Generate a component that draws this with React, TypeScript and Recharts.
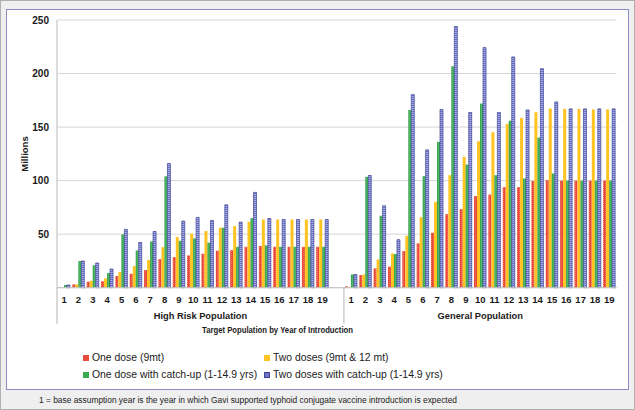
import React from "react";
import { BarChart, Bar, XAxis, YAxis, CartesianGrid } from "recharts";

const years = ["1", "2", "3", "4", "5", "6", "7", "8", "9", "10", "11", "12", "13", "14", "15", "16", "17", "18", "19"];
const groups = ["High Risk Population", "General Population"];
const seriesNames = [
  "One dose (9mt)",
  "Two doses (9mt & 12 mt)",
  "One dose with catch-up (1-14.9 yrs)",
  "Two doses with catch-up (1-14.9 yrs)",
];

// High risk population, millions
const hrOneDose = [0.4, 3.1, 5.6, 6, 10.9, 13, 16.5, 26.7, 28.6, 30.2, 31.7, 34.5, 35, 38.2, 38.9, 38.2, 38.2, 38.2, 38.2];
const hrTwoDoses = [0.3, 3.1, 6.5, 8.7, 14.6, 20.2, 25.8, 37.9, 47.3, 50.4, 52.9, 56, 57.5, 61.6, 63.7, 63.7, 63.7, 63.7, 63.7];
const hrOneCatchUp = [2.5, 24.9, 21, 13.7, 49.8, 34.8, 43.2, 104, 43.8, 46, 42, 56, 38.2, 65, 39.5, 38.2, 38.2, 38.2, 38.2];
const hrTwoCatchUp = [2.5, 24.9, 23, 17.4, 54.4, 42.3, 52.5, 116, 62.2, 65.6, 62.8, 77.4, 61.3, 89, 64.7, 63.7, 63.7, 63.7, 63.7];

// General population, millions
const gpOneDose = [1.2, 11.8, 18, 19.6, 34.2, 41.4, 51.3, 68.7, 73.4, 85.5, 87, 93.9, 93.9, 99.8, 100.4, 100, 100, 100, 100];
const gpTwoDoses = [0.8, 12.4, 26.4, 32, 48.5, 65.9, 80.2, 105.1, 122.2, 136.8, 145.2, 153, 158.6, 163.9, 167.3, 167, 167, 166.5, 166.5];
const gpOneCatchUp = [12.4, 103.5, 67.2, 31.4, 166, 104.2, 136.2, 206.8, 115, 172, 105.1, 156, 102, 140.2, 106.7, 100, 100, 100, 100];
const gpTwoCatchUp = [12.4, 104.8, 76.5, 44.8, 180.3, 128.7, 166.4, 244, 163.6, 224.2, 163.6, 215.5, 166, 204.6, 173.5, 167, 167, 167, 167];

const yTicks = [0, 50, 100, 150, 200, 250];

const data = [
  ...years.map((yr, i) => ({ yr, one: hrOneDose[i], two: hrTwoDoses[i], oneCu: hrOneCatchUp[i], twoCu: hrTwoCatchUp[i] })),
  { yr: "" },
  ...years.map((yr, i) => ({ yr, one: gpOneDose[i], two: gpTwoDoses[i], oneCu: gpOneCatchUp[i], twoCu: gpTwoCatchUp[i] })),
];

const FONT = "'Liberation Sans', Arial, sans-serif";
const HALF = 7.17;

const YearTick = (props: any) => {
  const { x, y, payload } = props;
  const idx = props.index ?? payload.index;
  return (
    <g>
      <text x={x} y={y + 15} textAnchor="middle" fontSize={9.5} fontWeight="bold" fill="#1a1a1a" fontFamily={FONT}>
        {payload.value}
      </text>
      {(idx === 0 || idx === 20) && (
        <line x1={x - HALF} x2={x - HALF} y1={y} y2={y + 36} stroke="#b4b4b4" strokeWidth={1} />
      )}
      {idx === 10 && (
        <text x={x - HALF} y={y + 31.5} textAnchor="middle" fontSize={9.3} fontWeight="bold" fill="#1a1a1a" fontFamily={FONT}>
          {groups[0]}
        </text>
      )}
      {idx === 29 && (
        <text x={x} y={y + 31.5} textAnchor="middle" fontSize={9.3} fontWeight="bold" fill="#1a1a1a" fontFamily={FONT}>
          {groups[1]}
        </text>
      )}
    </g>
  );
};

const swatchColors = ["#e84a3c", "#ffc322", "#3aab52", "#6d74c2"];

const LegendBox = () => (
  <div style={{ position: "absolute", left: 0, top: 350, width: 635, height: 40, fontFamily: FONT, fontSize: 10.4, color: "#1a1a1a" }}>
    {seriesNames.map((name, i) => (
      <div
        key={name}
        style={{
          position: "absolute",
          left: i % 2 === 0 ? 82 : 263,
          top: i < 2 ? 0 : 17,
          display: "flex",
          alignItems: "center",
          whiteSpace: "nowrap",
          lineHeight: "13px",
        }}
      >
        <svg width={6} height={6} style={{ marginRight: 3 }}>
          <rect x={0.5} y={0.5} width={5} height={5} fill={swatchColors[i]} stroke={i === 3 ? "#3d4397" : swatchColors[i]} strokeWidth={1} />
        </svg>
        <span>{name}</span>
      </div>
    ))}
  </div>
);

export default function App() {
  return (
    <div style={{ position: "fixed", left: 0, top: 0, width: 635, height: 410, background: "#efefef", boxSizing: "border-box", border: "1px solid #b0b0b0" }}>
      <div style={{ position: "absolute", left: 5, top: 8, width: 621, height: 379, background: "#fff", border: "1px solid #8b8cc4" }} />
      <div style={{ position: "absolute", left: -1, top: -1 }}>
        <BarChart
          width={635}
          height={410}
          data={data}
          margin={{ top: 20, right: 18.5, bottom: 92.3, left: 0 }}
          barCategoryGap={1}
          barGap={0}
        >
          <defs>
            <pattern id="redPat" patternUnits="userSpaceOnUse" width={2} height={2}>
              <rect width={2} height={2} fill="#e8473a" />
              <rect x={1} y={1} width={1} height={1} fill="#f07a5c" />
            </pattern>
            <pattern id="bluePat" patternUnits="userSpaceOnUse" width={2} height={2}>
              <rect width={2} height={2} fill="#6a71c1" />
              <rect x={0} y={0} width={2} height={1} fill="#a9aee4" />
            </pattern>
            <linearGradient id="greenGrad" x1="0" y1="0" x2="1" y2="0">
              <stop offset="0%" stopColor="#2b9a44" />
              <stop offset="50%" stopColor="#52bb66" />
              <stop offset="100%" stopColor="#2b9a44" />
            </linearGradient>
          </defs>
          <CartesianGrid vertical={false} stroke="#d6d6d6" strokeWidth={1} />
          <YAxis
            width={57}
            domain={[0, 250]}
            ticks={yTicks}
            interval={0}
            tickLine={false}
            axisLine={{ stroke: "#d0d0d0", strokeWidth: 1.5 }}
            tickFormatter={(v: number) => (v === 0 ? "" : String(v))}
            tick={{ fontSize: 10, fontWeight: "bold", fill: "#1a1a1a", fontFamily: FONT }}
            label={{
              content: () => (
                <text x={28} y={154} transform="rotate(-90 28 154)" textAnchor="middle" fontSize={9.5} fontWeight="bold" fill="#1a1a1a" fontFamily={FONT}>
                  Millions
                </text>
              ),
            }}
          />
          <XAxis
            dataKey="yr"
            interval={0}
            tickLine={false}
            tickSize={0}
            tickMargin={0}
            axisLine={{ stroke: "#c4c4c4", strokeWidth: 1 }}
            tick={<YearTick />}
            label={{
              content: () => (
                <text x={277.5} y={333} textAnchor="middle" fontSize={9.3} fontWeight="bold" fill="#1a1a1a" fontFamily={FONT} textLength={151} lengthAdjust="spacingAndGlyphs">
                  Target Population  by Year of Introduction
                </text>
              ),
            }}
          />
          <Bar dataKey="one" name={seriesNames[0]} fill="url(#redPat)" isAnimationActive={false} />
          <Bar dataKey="two" name={seriesNames[1]} fill="#ffc322" isAnimationActive={false} />
          <Bar dataKey="oneCu" name={seriesNames[2]} fill="url(#greenGrad)" isAnimationActive={false} />
          <Bar dataKey="twoCu" name={seriesNames[3]} fill="url(#bluePat)" stroke="#3a4094" strokeWidth={0.7} isAnimationActive={false} />
        </BarChart>
      </div>
      <LegendBox />
      <svg width={635} height={20} style={{ position: "absolute", left: -1, top: 390 }}>
        <text x={39} y={12} fontSize={8.4} fill="#1a1a1a" fontFamily={FONT} textLength={418} lengthAdjust="spacingAndGlyphs">
          1 = base assumption year is the year in which Gavi supported typhoid conjugate vaccine introduction is expected
        </text>
      </svg>
    </div>
  );
}
